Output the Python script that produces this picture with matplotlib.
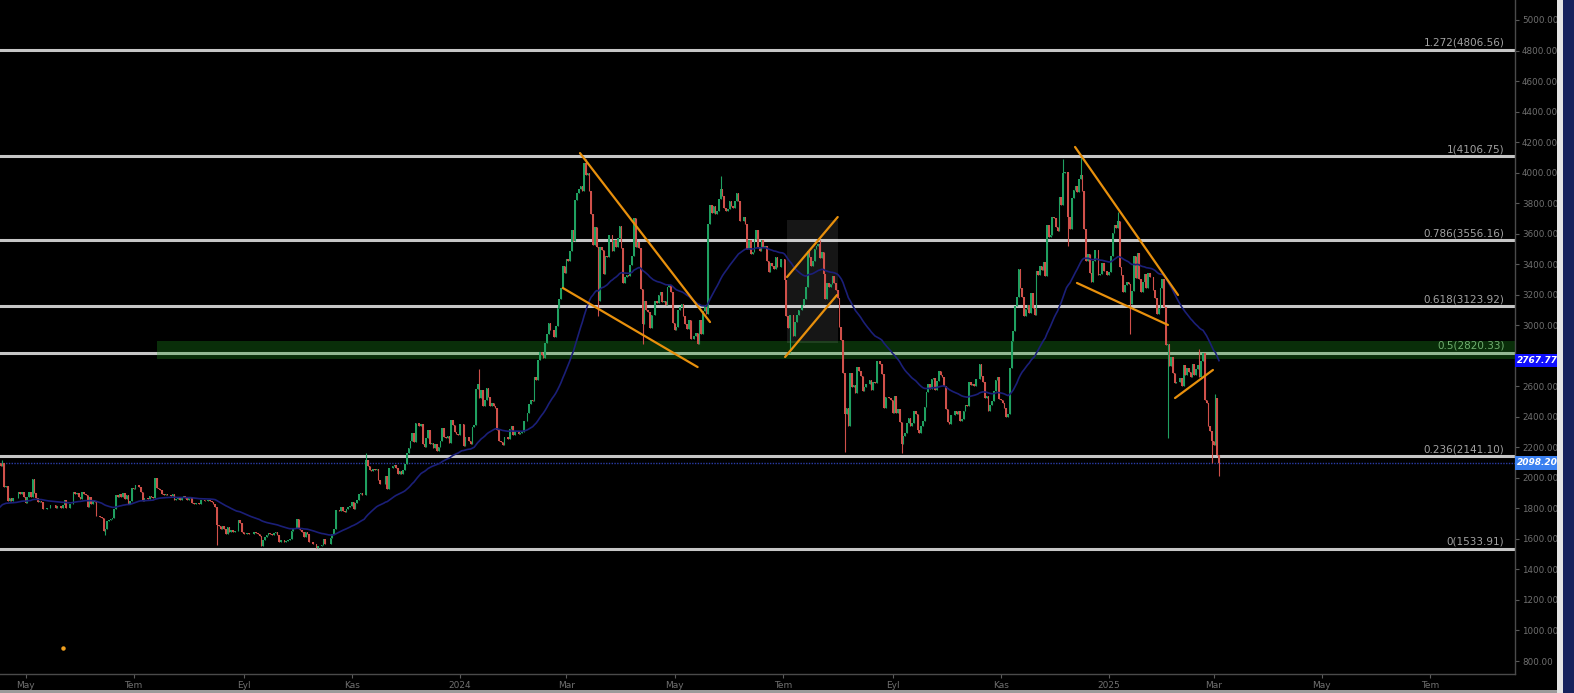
import numpy as np
import pandas as pd
import matplotlib
matplotlib.use("Agg")
import matplotlib.pyplot as plt
import matplotlib.dates as mdates
from matplotlib.patches import Rectangle

# ETH daily closes, one list per month
close_2023_02 = [1640, 1635, 1605]  # from Feb 26
close_2023_03 = [1665, 1648, 1570, 1567, 1565, 1564, 1565, 1535, 1440, 1430,
                 1480, 1590, 1680, 1705, 1655, 1675, 1800, 1790, 1780, 1740,
                 1800, 1740, 1815, 1750, 1740, 1775, 1715, 1775, 1795, 1790, 1820]
close_2023_04 = [1795, 1795, 1795, 1870, 1905, 1870, 1865, 1850, 1860, 1910,
                 1890, 1920, 2010, 2100, 2095, 2095, 2080, 2100, 1940, 1945,
                 1850, 1870, 1850, 1865, 1870, 1865, 1910, 1895, 1908, 1875]
close_2023_05 = [1835, 1875, 1905, 1875, 1995, 1900, 1870, 1845, 1850, 1840,
                 1795, 1795, 1800, 1800, 1820, 1820, 1825, 1800, 1815, 1815,
                 1805, 1820, 1852, 1800, 1805, 1830, 1829, 1910, 1893, 1900, 1875]
close_2023_06 = [1863, 1907, 1891, 1890, 1810, 1875, 1832, 1849, 1840, 1752,
                 1750, 1743, 1738, 1650, 1667, 1718, 1725, 1728, 1736, 1793,
                 1890, 1874, 1892, 1875, 1902, 1861, 1890, 1830, 1850, 1935]
close_2023_07 = [1925, 1952, 1955, 1937, 1910, 1850, 1870, 1867, 1862, 1880,
                 1876, 1870, 2000, 1935, 1930, 1920, 1897, 1890, 1894, 1890,
                 1890, 1880, 1893, 1853, 1859, 1870, 1858, 1874, 1880, 1865, 1855]
close_2023_08 = [1870, 1872, 1835, 1827, 1835, 1834, 1828, 1855, 1857, 1851,
                 1848, 1853, 1850, 1842, 1827, 1806, 1688, 1682, 1666, 1683,
                 1668, 1633, 1680, 1647, 1658, 1648, 1655, 1652, 1726, 1706, 1646]
close_2023_09 = [1630, 1635, 1640, 1630, 1632, 1635, 1646, 1636, 1635, 1618,
                 1554, 1593, 1610, 1625, 1640, 1635, 1626, 1638, 1645, 1623,
                 1583, 1592, 1592, 1582, 1587, 1595, 1600, 1655, 1670, 1671]
close_2023_10 = [1733, 1663, 1657, 1647, 1611, 1646, 1633, 1580, 1578, 1567,
                 1565, 1540, 1552, 1555, 1557, 1597, 1565, 1565, 1567, 1603,
                 1630, 1665, 1790, 1787, 1786, 1808, 1780, 1776, 1797, 1809, 1814]
close_2023_11 = [1845, 1797, 1833, 1858, 1894, 1900, 1885, 1888, 2120, 2076,
                 2053, 2043, 2055, 2049, 2057, 1987, 1960, 1963, 1963, 2012,
                 1930, 2063, 2063, 2080, 2086, 2062, 2028, 2048, 2028, 2052]
close_2023_12 = [2088, 2166, 2193, 2242, 2293, 2234, 2359, 2359, 2340, 2353,
                 2225, 2203, 2260, 2316, 2219, 2228, 2197, 2219, 2177, 2201,
                 2240, 2325, 2265, 2260, 2275, 2230, 2376, 2345, 2298, 2290, 2281]
close_2024_01 = [2352, 2355, 2209, 2267, 2268, 2240, 2220, 2330, 2345, 2580,
                 2617, 2525, 2576, 2472, 2511, 2587, 2528, 2468, 2490, 2468,
                 2455, 2315, 2240, 2232, 2218, 2267, 2267, 2256, 2317, 2343, 2283]
close_2024_02 = [2304, 2310, 2288, 2291, 2299, 2373, 2372, 2425, 2485, 2507,
                 2501, 2659, 2641, 2775, 2824, 2803, 2785, 2881, 2945, 3015,
                 2967, 2970, 2922, 2993, 3112, 3175, 3241, 3385, 3340]
close_2024_03 = [3434, 3422, 3487, 3625, 3553, 3819, 3869, 3891, 3913, 3878,
                 4066, 3982, 4000, 3881, 3730, 3525, 3644, 3515, 3159, 3514,
                 3491, 3333, 3455, 3450, 3588, 3591, 3488, 3560, 3510, 3572, 3647]
close_2024_04 = [3505, 3280, 3313, 3330, 3320, 3393, 3455, 3702, 3511, 3544,
                 3505, 3237, 3007, 3157, 3101, 3085, 2985, 3069, 3064, 3157,
                 3148, 3201, 3219, 3150, 3156, 3130, 3250, 3263, 3218, 3015]
close_2024_05 = [2970, 2988, 3103, 3117, 3136, 3063, 3008, 2975, 3034, 2910,
                 2912, 2930, 2951, 2880, 3037, 2944, 3094, 3123, 3071, 3663,
                 3790, 3737, 3780, 3728, 3751, 3827, 3893, 3844, 3768, 3747, 3761]
close_2024_06 = [3814, 3781, 3767, 3811, 3865, 3811, 3681, 3683, 3707, 3666,
                 3499, 3560, 3469, 3483, 3566, 3622, 3510, 3484, 3560, 3515,
                 3517, 3418, 3352, 3409, 3391, 3368, 3447, 3380, 3380, 3433]
close_2024_07 = [3436, 3296, 3059, 2980, 3065, 3068, 2932, 3018, 3066, 3102,
                 3097, 3133, 3175, 3250, 3485, 3444, 3386, 3423, 3500, 3516,
                 3535, 3440, 3480, 3339, 3170, 3276, 3250, 3271, 3320, 3279, 3231]
close_2024_08 = [3180, 2990, 2904, 2690, 2420, 2459, 2343, 2685, 2597, 2610,
                 2557, 2725, 2700, 2665, 2570, 2593, 2615, 2614, 2638, 2575,
                 2630, 2622, 2764, 2768, 2745, 2681, 2458, 2527, 2529, 2525, 2513]
close_2024_09 = [2425, 2538, 2428, 2450, 2366, 2225, 2272, 2297, 2360, 2390,
                 2341, 2362, 2438, 2418, 2316, 2295, 2340, 2372, 2467, 2562,
                 2615, 2582, 2647, 2653, 2578, 2634, 2697, 2675, 2658, 2603]
close_2024_10 = [2448, 2364, 2350, 2415, 2415, 2440, 2421, 2440, 2370, 2385,
                 2440, 2476, 2470, 2630, 2607, 2612, 2605, 2645, 2648, 2746,
                 2665, 2625, 2525, 2536, 2440, 2480, 2506, 2570, 2640, 2660, 2519]
close_2024_11 = [2513, 2490, 2457, 2400, 2421, 2722, 2896, 2962, 3128, 3185,
                 3370, 3245, 3185, 3060, 3105, 3131, 3077, 3209, 3110, 3067,
                 3355, 3327, 3391, 3361, 3415, 3323, 3656, 3580, 3592, 3706]
close_2024_12 = [3705, 3645, 3615, 3840, 3790, 4000, 4005, 4006, 3706, 3630,
                 3835, 3885, 3910, 3870, 3960, 3985, 3880, 3630, 3420, 3470,
                 3340, 3283, 3420, 3495, 3491, 3330, 3335, 3408, 3354, 3355, 3332]
close_2025_01 = [3352, 3452, 3606, 3656, 3635, 3686, 3380, 3328, 3220, 3264,
                 3283, 3267, 3140, 3225, 3455, 3312, 3473, 3305, 3215, 3286,
                 3334, 3245, 3340, 3314, 3318, 3233, 3181, 3075, 3115, 3247, 3301]
close_2025_02 = [3120, 2870, 2880, 2730, 2789, 2688, 2621, 2630, 2630, 2657,
                 2600, 2740, 2675, 2720, 2692, 2662, 2744, 2673, 2715, 2740,
                 2663, 2764, 2820, 2512, 2493, 2343, 2310, 2240]
close_2025_03 = [2218, 2520, 2150, 2098.20]

month_starts = ["2023-02-26", "2023-03-01", "2023-04-01", "2023-05-01", "2023-06-01",
                "2023-07-01", "2023-08-01", "2023-09-01", "2023-10-01", "2023-11-01",
                "2023-12-01", "2024-01-01", "2024-02-01", "2024-03-01", "2024-04-01",
                "2024-05-01", "2024-06-01", "2024-07-01", "2024-08-01", "2024-09-01",
                "2024-10-01", "2024-11-01", "2024-12-01", "2025-01-01", "2025-02-01",
                "2025-03-01"]
month_closes = [close_2023_02, close_2023_03, close_2023_04, close_2023_05, close_2023_06,
                close_2023_07, close_2023_08, close_2023_09, close_2023_10, close_2023_11,
                close_2023_12, close_2024_01, close_2024_02, close_2024_03, close_2024_04,
                close_2024_05, close_2024_06, close_2024_07, close_2024_08, close_2024_09,
                close_2024_10, close_2024_11, close_2024_12, close_2025_01, close_2025_02,
                close_2025_03]

# long wicks visible on the chart
wick_highs = {"2023-04-18": 2120, "2023-11-09": 2160, "2024-01-12": 2715,
              "2024-03-12": 4090, "2024-05-27": 3975, "2024-07-22": 3560,
              "2024-12-06": 4090, "2024-12-16": 4105, "2025-01-06": 3740,
              "2025-02-21": 2845, "2025-03-02": 2550}
wick_lows = {"2023-06-15": 1625, "2023-08-17": 1560, "2024-03-19": 3060,
             "2024-04-13": 2880, "2024-07-05": 2820, "2024-08-05": 2170,
             "2024-09-06": 2160, "2024-12-09": 3520, "2025-01-13": 2940,
             "2025-02-03": 2260, "2025-02-28": 2100, "2025-03-04": 2010}

# fibonacci levels
fib_ratios = ["1.272", "1", "0.786", "0.618", "0.5", "0.236", "0"]
fib_prices = [4806.56, 4106.75, 3556.16, 3123.92, 2820.33, 2141.10, 1533.91]

# support zone
zone_start = "2023-07-14"
zone_low, zone_high = 2778, 2900

# hand drawn trend lines (start date, start price, end date, end price)
trend_lines = [
    ("2024-03-08 16:00", 4128, "2024-05-21", 3021),
    ("2024-02-28", 3244, "2024-05-14", 2726),
    ("2024-07-03 10:00", 3316, "2024-08-01", 3709),
    ("2024-07-02 08:00", 2792, "2024-07-31 14:00", 3198),
    ("2024-12-12 20:00", 4168, "2025-02-08 22:00", 3198),
    ("2024-12-13 22:00", 3277, "2025-02-03 05:00", 3002),
    ("2025-02-07 05:00", 2523, "2025-02-28 14:00", 2707),
]
box_start, box_end = "2024-07-03 10:00", "2024-08-01"
box_low, box_high = 2884, 3690
dot_date, dot_price = "2023-05-22", 885

ma_last = 2767.77
last_price = 2098.20

x_tick_dates = ["2023-05-01", "2023-07-01", "2023-09-01", "2023-11-01", "2024-01-01",
                "2024-03-01", "2024-05-01", "2024-07-01", "2024-09-01", "2024-11-01",
                "2025-01-01", "2025-03-01", "2025-05-01", "2025-07-01"]
x_tick_labels = ["May", "Tem", "Eyl", "Kas", "2024", "Mar", "May", "Tem", "Eyl", "Kas",
                 "2025", "Mar", "May", "Tem"]

# build OHLC frame
dates = []
closes = []
for start, vals in zip(month_starts, month_closes):
    dates.extend(pd.date_range(start, periods=len(vals), freq="D"))
    closes.extend(vals)
df = pd.DataFrame({"close": closes}, index=pd.DatetimeIndex(dates))
df["open"] = df["close"].shift(1).fillna(df["close"])
df["high"] = df[["open", "close"]].max(axis=1)
df["low"] = df[["open", "close"]].min(axis=1)
for d, v in wick_highs.items():
    df.loc[pd.Timestamp(d), "high"] = v
for d, v in wick_lows.items():
    df.loc[pd.Timestamp(d), "low"] = v
df["ma"] = df["close"].ewm(span=50, adjust=False).mean()

BG = "black"
fig = plt.figure(figsize=(15.74, 6.93), dpi=100, facecolor=BG)
ax = fig.add_axes([0, 19 / 693, 1515 / 1574, 674 / 693])
ax.set_facecolor(BG)

x_left = pd.Timestamp("2023-04-16 14:53")
x_right = x_left + pd.Timedelta(days=854.3)
ax.set_xlim(x_left, x_right)
ax.set_ylim(714.9, 5131)

# fib lines + labels
for r, p in zip(fib_ratios, fib_prices):
    ax.axhline(p, color="#c6c6c6", lw=2.2, zorder=2)
    col = "#6fae6f" if r == "0.5" else "#a2a2a2"
    ax.annotate(f"{r}({p:.2f})", xy=(0.993, p), xycoords=ax.get_yaxis_transform(),
                xytext=(0, 1.5), textcoords="offset points", ha="right", va="bottom",
                color=col, fontsize=7.5, zorder=6)

# green zone
ax.fill_between([pd.Timestamp(zone_start), x_right], zone_low, zone_high,
                color="#1f9a1f", alpha=0.3, lw=0, zorder=2.5)

# shaded box
ax.add_patch(Rectangle((mdates.date2num(pd.Timestamp(box_start)), box_low),
                       mdates.date2num(pd.Timestamp(box_end)) - mdates.date2num(pd.Timestamp(box_start)),
                       box_high - box_low, facecolor="white", alpha=0.09, lw=0, zorder=2.6))

# last price dotted line
ax.axhline(last_price, color="#2a3ca8", lw=1.0, ls=(0, (1, 1)), zorder=2.7)

# candles
up = df["close"] >= df["open"]
green, red = "#1fa060", "#d0504a"
colors = np.where(up, green, red)
ax.vlines(df.index, df["low"], df["high"], colors=colors, lw=0.8, zorder=3)
ax.bar(df.index, (df["close"] - df["open"]).abs(), bottom=df[["open", "close"]].min(axis=1),
       width=0.9, color=colors, lw=0, zorder=3.5)

# moving average
ax.plot(df.index, df["ma"], color="#1b1f78", lw=1.2, zorder=4)

# trend lines
for d0, p0, d1, p1 in trend_lines:
    ax.plot([pd.Timestamp(d0), pd.Timestamp(d1)], [p0, p1], color="#e8900c", lw=1.6,
            solid_capstyle="round", zorder=5)
ax.plot([pd.Timestamp(dot_date)], [dot_price], marker="o", ms=2.2, color="#f0a020", zorder=5)

# axes styling
for s in ["top", "left"]:
    ax.spines[s].set_visible(False)
for s in ["bottom", "right"]:
    ax.spines[s].set_color("#4a4a4a")
    ax.spines[s].set_linewidth(1.0)
ax.yaxis.tick_right()
yt = np.arange(800, 5001, 200)
ax.set_yticks(yt)
# the 2800 label sits under the MA price tag
ax.set_yticklabels(["" if v == 2800 else f"{v:.2f}" for v in yt])
ax.tick_params(axis="y", colors="#5a5a5a", labelcolor="#707070", labelsize=6.3,
               length=3, width=0.8, pad=2)
ax.set_xticks([pd.Timestamp(d) for d in x_tick_dates])
ax.set_xticklabels(x_tick_labels)
ax.tick_params(axis="x", colors="#5a5a5a", labelcolor="#707070", labelsize=6.5,
               length=3, width=0.8, pad=2)

# price tags on the axis
tag_kw = dict(transform=ax.get_yaxis_transform(), ha="left", va="center", color="white",
              fontsize=6.5, style="italic", fontweight="bold", zorder=7, clip_on=False)
ax.text(1.0015, ma_last, "2767.77",
        bbox=dict(boxstyle="square,pad=0.25", fc="#1010ff", ec="none"), **tag_kw)
ax.text(1.0015, last_price, "2098.20",
        bbox=dict(boxstyle="square,pad=0.25", fc="#3a80f0", ec="none"), **tag_kw)

# frame pieces right of the chart
fig.patches.append(Rectangle((1557 / 1574, 0), 6 / 1574, 1, transform=fig.transFigure,
                             facecolor="#e4e4e4", lw=0))
fig.patches.append(Rectangle((1563 / 1574, 0), 11 / 1574, 1, transform=fig.transFigure,
                             facecolor="#17225c", lw=0))
fig.patches.append(Rectangle((0, 0), 1557 / 1574, 3 / 693, transform=fig.transFigure,
                             facecolor="#9a9a9a", lw=0))

fig.savefig("out.png", dpi=100, facecolor=BG)
